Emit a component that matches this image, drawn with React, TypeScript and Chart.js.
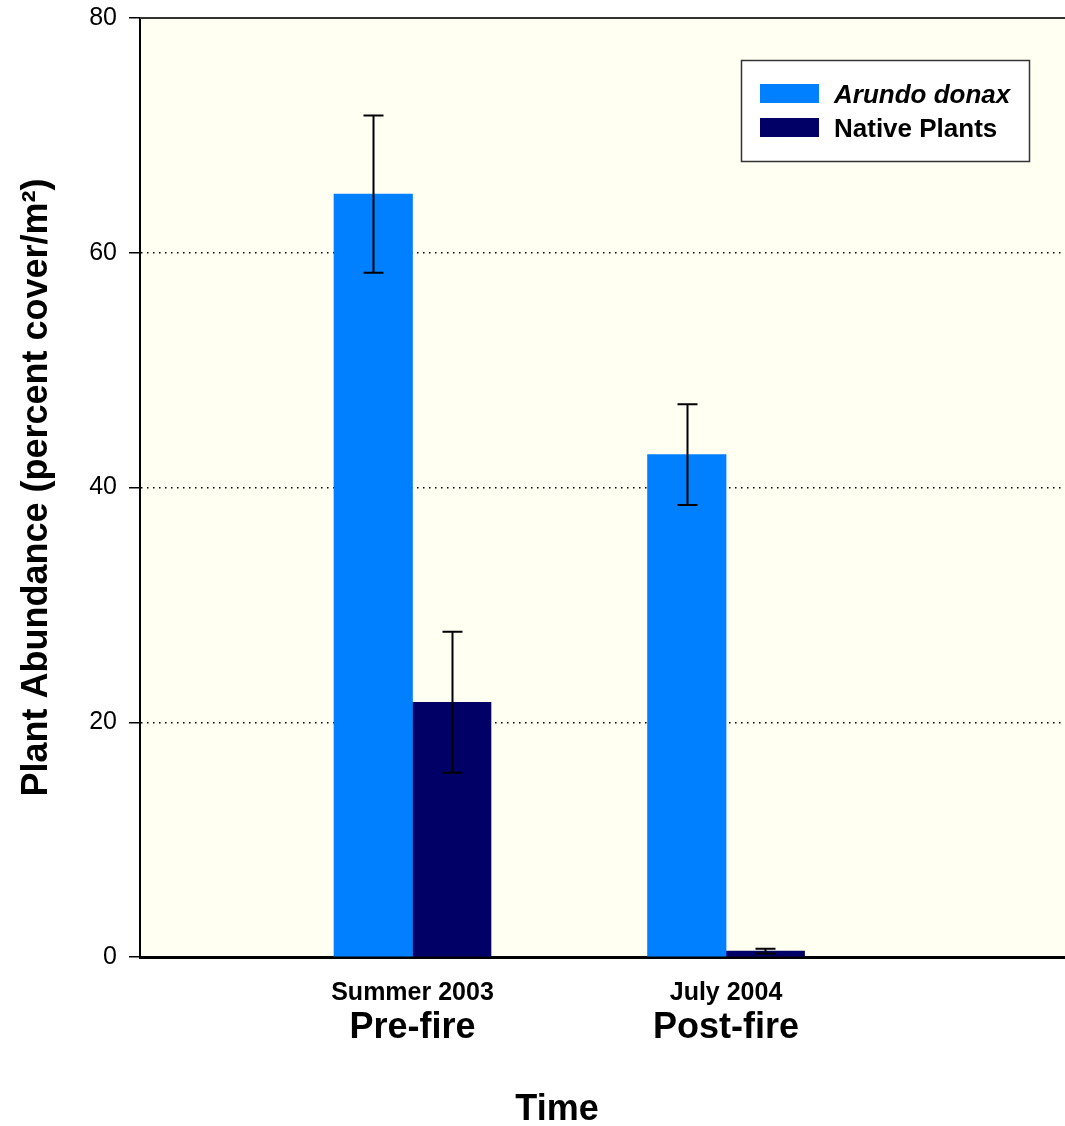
import React, { useEffect, useRef } from "react";
import { Chart, registerables } from "chart.js";

Chart.register(...registerables);

const categories = ["Summer 2003", "July 2004"];
const subLabels = ["Pre-fire", "Post-fire"];
const categoryPositions = [1, 2];
const arundoValues = [65.0, 42.8];
const arundoErrors = [6.7, 4.3];
const nativeValues = [21.7, 0.5];
const nativeErrors = [6.0, 0.2];
const yTicks = [0, 20, 40, 60, 80];
const seriesNames = ["Arundo donax", "Native Plants"];
const seriesColors = ["#0080FF", "#000066"];
const errorSets = [arundoErrors, nativeErrors];

const FONT = "'Liberation Sans', Arial, Helvetica, sans-serif";

const decorPlugin = {
  id: "decor",
  beforeDraw(chart: any) {
    const { ctx, chartArea } = chart;
    ctx.save();
    ctx.fillStyle = "#ffffff";
    ctx.fillRect(0, 0, chart.width, chart.height);
    ctx.fillStyle = "#FFFFF2";
    ctx.fillRect(chartArea.left, chartArea.top, chartArea.right - chartArea.left, chartArea.bottom - chartArea.top);
    ctx.restore();
  },
  afterDatasetsDraw(chart: any) {
    const { ctx } = chart;
    const y = chart.scales.y;
    ctx.save();
    ctx.strokeStyle = "#000000";
    ctx.lineWidth = 2;
    chart.data.datasets.forEach((ds: any, i: number) => {
      const meta = chart.getDatasetMeta(i);
      meta.data.forEach((el: any, j: number) => {
        const v = ds.data[j].y;
        const e = errorSets[i][j];
        const x = Math.round(el.x) + 0.5;
        const yHi = y.getPixelForValue(v + e);
        const yLo = y.getPixelForValue(v - e);
        ctx.beginPath();
        ctx.moveTo(x, yHi);
        ctx.lineTo(x, yLo);
        ctx.moveTo(x - 10, yHi);
        ctx.lineTo(x + 10, yHi);
        ctx.moveTo(x - 10, yLo);
        ctx.lineTo(x + 10, yLo);
        ctx.stroke();
      });
    });
    ctx.restore();
  },
  afterDraw(chart: any) {
    const { ctx, chartArea } = chart;
    const xs = chart.scales.x;
    ctx.save();
    // top border
    ctx.strokeStyle = "#333333";
    ctx.lineWidth = 2;
    ctx.beginPath();
    ctx.moveTo(chartArea.left, chartArea.top);
    ctx.lineTo(chartArea.right, chartArea.top);
    ctx.stroke();

    // category labels
    ctx.fillStyle = "#000000";
    ctx.textAlign = "center";
    ctx.textBaseline = "alphabetic";
    categories.forEach((c, i) => {
      const px = xs.getPixelForValue(categoryPositions[i]);
      ctx.font = `bold 25px ${FONT}`;
      ctx.fillText(c, px, chartArea.bottom + 43);
      ctx.font = `bold 36px ${FONT}`;
      ctx.fillText(subLabels[i], px, chartArea.bottom + 81);
    });

    // axis title
    ctx.font = `bold 36px ${FONT}`;
    ctx.fillText("Time", chartArea.left + 417, chartArea.bottom + 163);

    // legend
    const bx = chartArea.right - 324;
    const by = chartArea.top + 42;
    const bw = 288;
    const bh = 101;
    ctx.fillStyle = "#ffffff";
    ctx.fillRect(bx, by, bw, bh);
    ctx.strokeStyle = "#333333";
    ctx.lineWidth = 1.5;
    ctx.strokeRect(bx + 0.5, by + 0.5, bw, bh);
    ctx.textAlign = "left";
    seriesNames.forEach((n, i) => {
      const ry = by + 24 + i * 34;
      ctx.fillStyle = seriesColors[i];
      ctx.fillRect(bx + 19, ry, 59, 19);
      ctx.fillStyle = "#000000";
      ctx.font = `${i === 0 ? "italic " : ""}bold 26px ${FONT}`;
      ctx.fillText(n, bx + 93, ry + 19);
    });
    ctx.restore();
  },
};

export default function App() {
  const ref = useRef<HTMLCanvasElement | null>(null);
  useEffect(() => {
    if (!ref.current) return;
    const chart = new Chart(ref.current, {
      type: "bar",
      data: {
        datasets: [
          {
            label: seriesNames[0],
            data: categoryPositions.map((x, i) => ({ x, y: arundoValues[i] })),
            backgroundColor: seriesColors[0],
            barThickness: 78.5,
          },
          {
            label: seriesNames[1],
            data: categoryPositions.map((x, i) => ({ x, y: nativeValues[i] })),
            backgroundColor: seriesColors[1],
            barThickness: 78.5,
          },
        ],
      },
      options: {
        animation: false,
        responsive: false,
        maintainAspectRatio: false,
        layout: { padding: { left: 0, right: 0, top: 18, bottom: 0 } },
        plugins: {
          legend: { display: false },
          tooltip: { enabled: false },
          title: { display: false },
        },
        scales: {
          x: {
            type: "linear",
            min: 0.131,
            max: 3.081,
            offset: false,
            grid: { display: false, drawTicks: false },
            border: { display: true, color: "#000000", width: 3 },
            ticks: { display: false },
            afterBuildTicks: (s: any) => {
              s.ticks = categoryPositions.map((v) => ({ value: v }));
            },
            afterFit: (s: any) => {
              s.height = 169;
              s.paddingLeft = 0;
              s.paddingRight = 0;
            },
          },
          y: {
            type: "linear",
            min: 0,
            max: 80,
            afterBuildTicks: (s: any) => {
              s.ticks = yTicks.map((v) => ({ value: v }));
            },
            afterFit: (s: any) => {
              s.width = 140;
              s.paddingTop = 0;
              s.paddingBottom = 0;
            },
            grid: {
              color: (c: any) => (c.tick && c.tick.value > 0 && c.tick.value < 80 ? "#000000" : "rgba(0,0,0,0)"),
              lineWidth: 1.5,
              tickColor: "#000000",
              tickLength: 11,
              tickWidth: 1.5,
              tickBorderDash: [],
              drawTicks: true,
            },
            border: { display: true, color: "#000000", width: 2, dash: [1.5, 4.5] },
            ticks: {
              color: "#000000",
              font: { family: FONT, size: 25 },
              padding: 12,
            },
            title: {
              display: true,
              text: "Plant Abundance (percent cover/m²)",
              color: "#000000",
              font: { family: FONT, size: 36, weight: "bold" },
              padding: { top: 15, bottom: 0 },
            },
          },
        },
      },
      plugins: [decorPlugin],
    } as any);
    return () => chart.destroy();
  }, []);
  return (
    <div style={{ position: "absolute", left: 0, top: 0, width: 1065, height: 1126 }}>
      <canvas ref={ref} width={1065} height={1126} style={{ display: "block" }} />
    </div>
  );
}
